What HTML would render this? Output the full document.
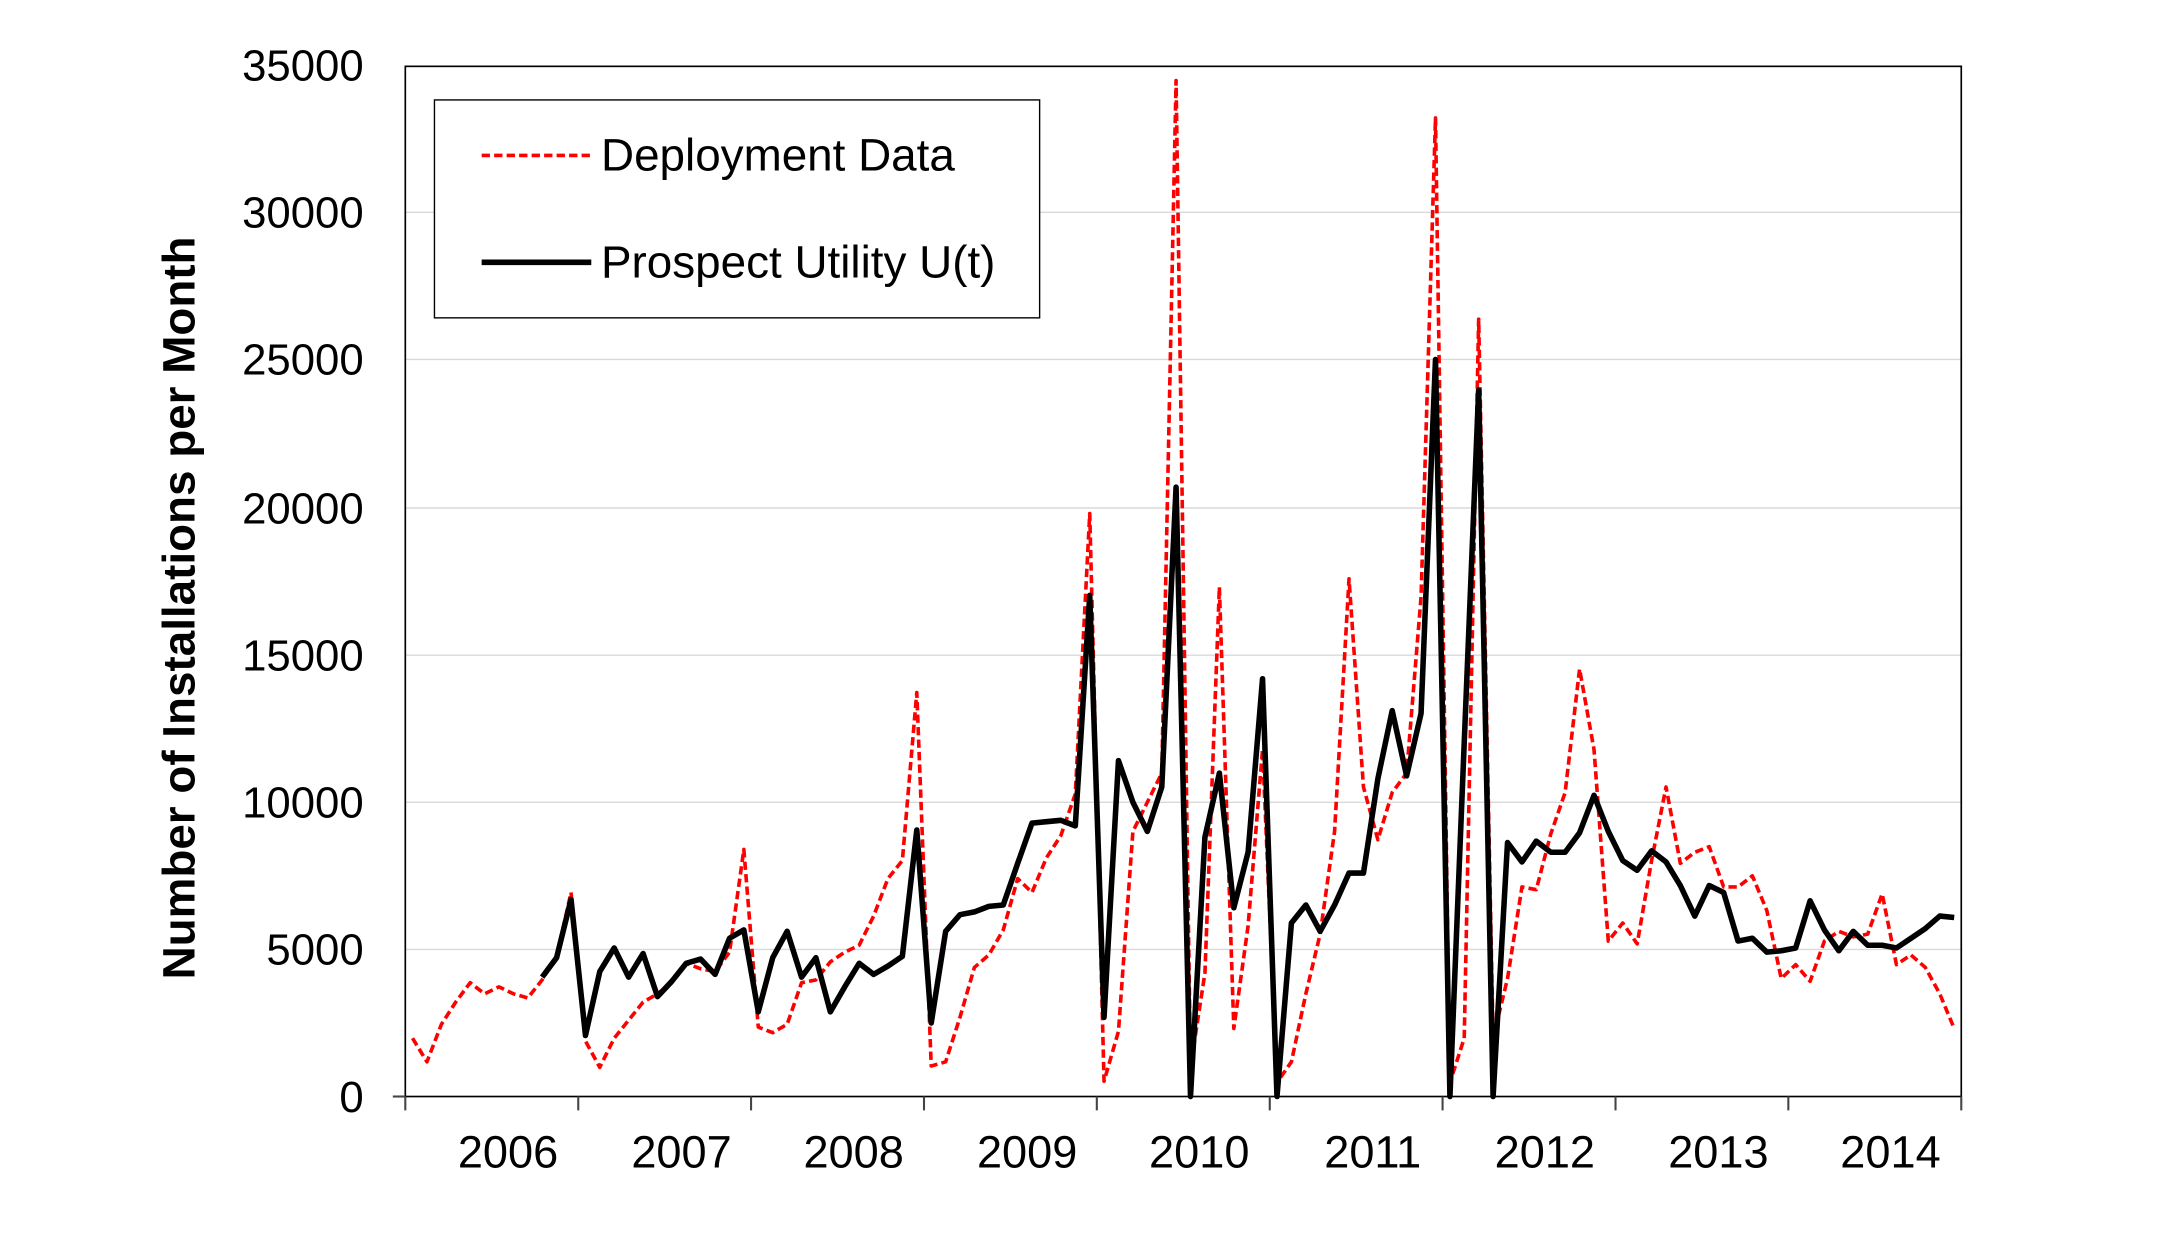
<!DOCTYPE html>
<html><head><meta charset="utf-8"><style>
html,body{margin:0;padding:0;background:#fff;}
svg{display:block;}
text{font-family:"Liberation Sans",Arial,sans-serif;fill:#000;}
</style></head><body>
<svg width="2176" height="1246" viewBox="0 0 1567.7 897.7" preserveAspectRatio="none" xmlns="http://www.w3.org/2000/svg">
<rect width="1567.7" height="897.7" fill="#fff"/>
<g stroke="#d9d9d9" stroke-width="1">
<line x1="292" y1="153" x2="1413" y2="153"/>
<line x1="292" y1="259" x2="1413" y2="259"/>
<line x1="292" y1="366" x2="1413" y2="366"/>
<line x1="292" y1="472" x2="1413" y2="472"/>
<line x1="292" y1="578" x2="1413" y2="578"/>
<line x1="292" y1="684" x2="1413" y2="684"/>
</g>
<rect x="292" y="47.8" width="1121" height="742.2" fill="none" stroke="#000" stroke-width="1.2"/>
<g stroke="#444" stroke-width="1.5">
<line x1="283" y1="790" x2="292" y2="790"/>
<line x1="292" y1="790" x2="292" y2="800"/>
<line x1="416.6" y1="790" x2="416.6" y2="800"/>
<line x1="541.1" y1="790" x2="541.1" y2="800"/>
<line x1="665.7" y1="790" x2="665.7" y2="800"/>
<line x1="790.2" y1="790" x2="790.2" y2="800"/>
<line x1="914.8" y1="790" x2="914.8" y2="800"/>
<line x1="1039.3" y1="790" x2="1039.3" y2="800"/>
<line x1="1163.9" y1="790" x2="1163.9" y2="800"/>
<line x1="1288.4" y1="790" x2="1288.4" y2="800"/>
<line x1="1413" y1="790" x2="1413" y2="800"/>
</g>
<g font-size="31.5" text-anchor="end">
<text x="262" y="801">0</text>
<text x="262" y="695">5000</text>
<text x="262" y="589">10000</text>
<text x="262" y="483">15000</text>
<text x="262" y="377">20000</text>
<text x="262" y="270">25000</text>
<text x="262" y="164">30000</text>
<text x="262" y="58">35000</text>
</g>
<g font-size="32.5" text-anchor="middle">
<text x="366" y="841">2006</text>
<text x="491" y="841">2007</text>
<text x="615" y="841">2008</text>
<text x="740" y="841">2009</text>
<text x="864" y="841">2010</text>
<text x="989" y="841">2011</text>
<text x="1113" y="841">2012</text>
<text x="1238" y="841">2013</text>
<text x="1362" y="841">2014</text>
</g>
<text transform="translate(140,438) rotate(-90)" font-size="33" font-weight="bold" text-anchor="middle">Number of Installations per Month</text>
<polyline fill="none" stroke="#ff0000" stroke-width="2.6" stroke-dasharray="6,3" stroke-linejoin="round" points="297.2,748 307.6,765 318.0,738 328.3,722 338.7,708 349.1,716 359.5,711 369.9,716 380.2,719 390.6,706 401.0,689 411.4,643 421.8,750 432.1,769 442.5,748 452.9,735 463.3,722 473.7,716 484.0,708 494.4,694 504.8,698 515.2,700 525.6,686 535.9,612 546.3,740 556.7,744 567.1,738 577.5,708 587.8,706 598.2,693 608.6,686 619.0,681 629.4,660 639.7,633 650.1,620 660.5,499 670.9,768 681.3,765 691.6,733 702.0,697 712.4,688 722.8,670 733.2,633 743.5,643 753.9,618 764.3,602 774.7,572 785.1,370 795.4,779 805.8,743 816.2,599 826.6,578 837.0,557 847.3,58 857.7,769 868.1,701 878.5,423 888.9,741 899.2,667 909.6,540 920.0,780 930.4,765 940.8,716 951.1,673 961.5,599 971.9,417 982.3,567 992.7,605 1003.0,571 1013.4,557 1023.8,430 1034.2,85 1044.6,780 1054.9,748 1065.3,230 1075.7,748 1086.1,705 1096.5,639 1106.8,641 1117.2,601 1127.6,571 1138.0,482 1148.4,540 1158.7,678 1169.1,665 1179.5,680 1189.9,620 1200.3,567 1210.6,622 1221.0,614 1231.4,610 1241.8,639 1252.2,639 1262.5,631 1272.9,656 1283.3,705 1293.7,695 1304.1,707 1314.4,678 1324.8,671 1335.2,675 1345.6,673 1356.0,644 1366.3,695 1376.7,688 1387.1,697 1397.5,716 1407.9,741"/>
<polyline fill="none" stroke="#000" stroke-width="4" stroke-linejoin="round" points="390.6,704 401.0,690 411.4,648 421.8,746 432.1,700 442.5,683 452.9,704 463.3,687 473.7,718 484.0,707 494.4,694 504.8,691 515.2,702 525.6,676 535.9,670 546.3,729 556.7,690 567.1,671 577.5,704 587.8,690 598.2,729 608.6,711 619.0,694 629.4,702 639.7,696 650.1,689 660.5,598 670.9,737 681.3,671 691.6,659 702.0,657 712.4,653 722.8,652 733.2,622 743.5,593 753.9,592 764.3,591 774.7,595 785.1,429 795.4,733 805.8,548 816.2,578 826.6,599 837.0,567 847.3,351 857.7,790 868.1,603 878.5,557 888.9,654 899.2,614 909.6,489 920.0,790 930.4,665 940.8,652 951.1,671 961.5,652 971.9,629 982.3,629 992.7,561 1003.0,512 1013.4,559 1023.8,514 1034.2,259 1044.6,790 1054.9,535 1065.3,281 1075.7,790 1086.1,607 1096.5,621 1106.8,606 1117.2,614 1127.6,614 1138.0,600 1148.4,573 1158.7,599 1169.1,620 1179.5,627 1189.9,613 1200.3,621 1210.6,638 1221.0,660 1231.4,638 1241.8,643 1252.2,678 1262.5,676 1272.9,686 1283.3,685 1293.7,683 1304.1,649 1314.4,670 1324.8,685 1335.2,671 1345.6,681 1356.0,681 1366.3,683 1376.7,676 1387.1,669 1397.5,660 1407.9,661"/>
<rect x="313" y="72" width="436" height="157" fill="#fff" stroke="#000" stroke-width="1"/>
<line x1="347" y1="112" x2="426" y2="112" stroke="#ff0000" stroke-width="2.6" stroke-dasharray="6,3"/>
<line x1="347" y1="189" x2="426" y2="189" stroke="#000" stroke-width="4"/>
<g font-size="33">
<text x="433" y="123">Deployment Data</text>
<text x="433" y="200">Prospect Utility U(t)</text>
</g>
</svg>
</body></html>
